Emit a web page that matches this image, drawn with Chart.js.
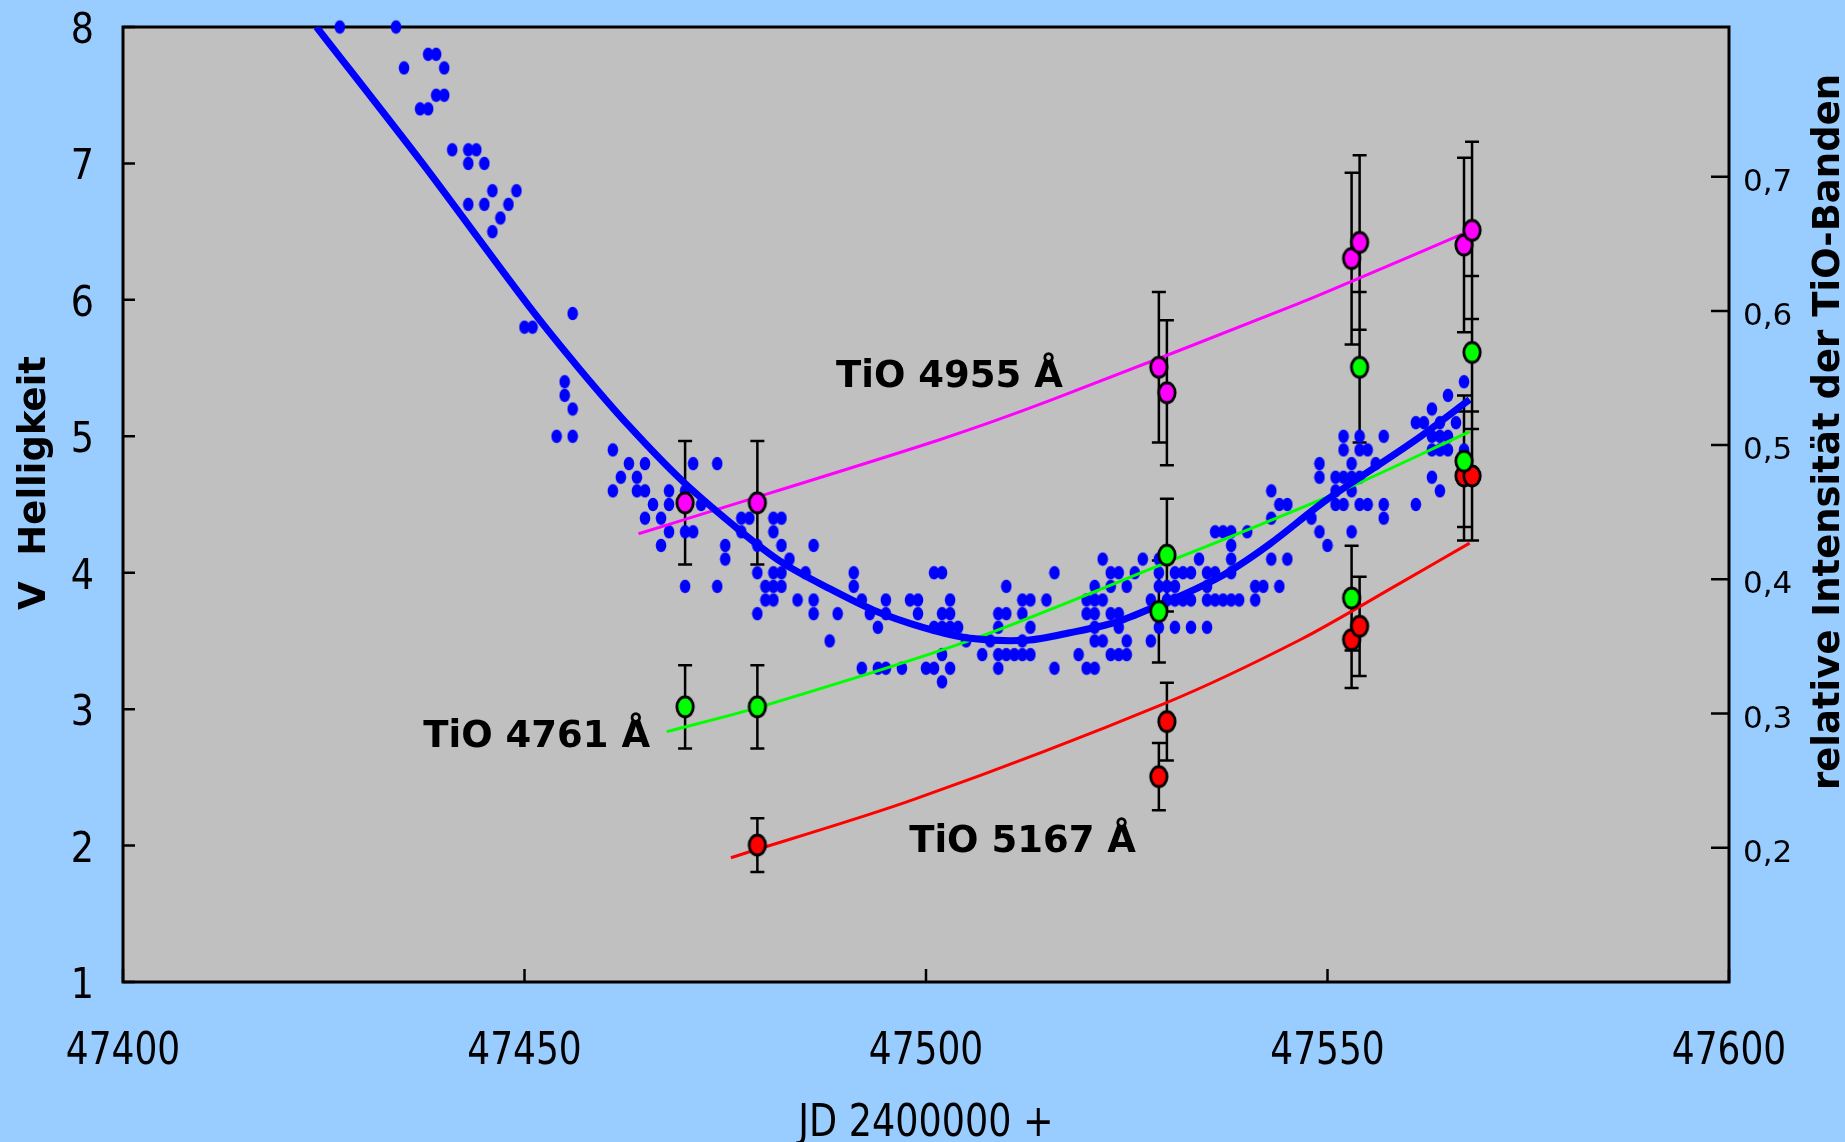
<!DOCTYPE html>
<html>
<head>
<meta charset="utf-8">
<title>V Helligkeit und TiO-Banden</title>
<script src="https://cdn.jsdelivr.net/npm/chart.js@4.4.1/dist/chart.umd.min.js"></script>
<style>
  html, body { margin: 0; padding: 0; background: #99ccff; }
  canvas { display: block; }
</style>
</head>
<body>
<canvas id="lightCurve" width="1845" height="1142"></canvas>
<script>
// Light curve (V) with the relative intensity of three TiO bands

const jdTicks = [47400, 47450, 47500, 47550, 47600];
const vTicks = [1, 2, 3, 4, 5, 6, 7, 8];
const tioTicks = [0.2, 0.3, 0.4, 0.5, 0.6, 0.7];

// visual observations: [JD - 2400000, V]
const vObs = [
  [47427, 8.0], [47434, 8.0],
  [47438, 7.8], [47439, 7.8],
  [47435, 7.7], [47440, 7.7],
  [47439, 7.5], [47440, 7.5],
  [47437, 7.4], [47438, 7.4],
  [47441, 7.1], [47443, 7.1], [47444, 7.1],
  [47443, 7.0], [47445, 7.0],
  [47446, 6.8], [47449, 6.8],
  [47443, 6.7], [47445, 6.7], [47448, 6.7],
  [47447, 6.6],
  [47446, 6.5],
  [47456, 5.9],
  [47450, 5.8], [47451, 5.8],
  [47455, 5.4], [47567, 5.4],
  [47455, 5.3], [47565, 5.3],
  [47456, 5.2], [47563, 5.2],
  [47561, 5.1], [47562, 5.1], [47564, 5.1], [47566, 5.1],
  [47454, 5.0], [47456, 5.0], [47552, 5.0], [47554, 5.0], [47557, 5.0], [47563, 5.0], [47564, 5.0], [47565, 5.0],
  [47461, 4.9], [47552, 4.9], [47554, 4.9], [47555, 4.9], [47563, 4.9], [47564, 4.9], [47565, 4.9], [47567, 4.9],
  [47463, 4.8], [47465, 4.8], [47471, 4.8], [47474, 4.8], [47549, 4.8], [47553, 4.8], [47556, 4.8],
  [47462, 4.7], [47464, 4.7], [47549, 4.7], [47551, 4.7], [47552, 4.7], [47553, 4.7], [47554, 4.7], [47563, 4.7],
  [47461, 4.6], [47464, 4.6], [47465, 4.6], [47468, 4.6], [47470, 4.6], [47543, 4.6], [47551, 4.6], [47553, 4.6], [47564, 4.6],
  [47466, 4.5], [47468, 4.5], [47472, 4.5], [47544, 4.5], [47545, 4.5], [47551, 4.5], [47552, 4.5], [47554, 4.5],
  [47555, 4.5], [47557, 4.5], [47561, 4.5],
  [47465, 4.4], [47467, 4.4], [47477, 4.4], [47478, 4.4], [47481, 4.4], [47482, 4.4], [47543, 4.4], [47548, 4.4], [47557, 4.4],
  [47468, 4.3], [47470, 4.3], [47471, 4.3], [47477, 4.3], [47481, 4.3], [47536, 4.3], [47537, 4.3], [47538, 4.3],
  [47540, 4.3], [47549, 4.3], [47553, 4.3],
  [47467, 4.2], [47475, 4.2], [47479, 4.2], [47482, 4.2], [47486, 4.2], [47538, 4.2], [47550, 4.2],
  [47475, 4.1], [47483, 4.1], [47522, 4.1], [47527, 4.1], [47529, 4.1], [47534, 4.1], [47538, 4.1], [47543, 4.1], [47545, 4.1],
  [47479, 4.0], [47481, 4.0], [47482, 4.0], [47485, 4.0], [47491, 4.0], [47501, 4.0], [47502, 4.0], [47516, 4.0], [47523, 4.0],
  [47524, 4.0], [47526, 4.0], [47529, 4.0], [47531, 4.0], [47532, 4.0], [47533, 4.0], [47535, 4.0], [47536, 4.0], [47538, 4.0],
  [47470, 3.9], [47474, 3.9], [47480, 3.9], [47481, 3.9], [47482, 3.9], [47491, 3.9], [47510, 3.9], [47521, 3.9], [47523, 3.9],
  [47525, 3.9], [47529, 3.9], [47530, 3.9], [47531, 3.9], [47535, 3.9], [47541, 3.9], [47542, 3.9], [47544, 3.9],
  [47480, 3.8], [47481, 3.8], [47484, 3.8], [47486, 3.8], [47492, 3.8], [47495, 3.8], [47498, 3.8], [47499, 3.8], [47503, 3.8],
  [47512, 3.8], [47513, 3.8], [47515, 3.8], [47520, 3.8], [47521, 3.8], [47522, 3.8], [47528, 3.8], [47530, 3.8], [47531, 3.8],
  [47532, 3.8], [47533, 3.8], [47535, 3.8], [47536, 3.8], [47537, 3.8], [47538, 3.8], [47539, 3.8], [47541, 3.8],
  [47479, 3.7], [47486, 3.7], [47489, 3.7], [47493, 3.7], [47495, 3.7], [47499, 3.7], [47502, 3.7], [47503, 3.7],
  [47509, 3.7], [47510, 3.7], [47512, 3.7], [47520, 3.7], [47521, 3.7], [47523, 3.7], [47524, 3.7],
  [47494, 3.6], [47501, 3.6], [47502, 3.6], [47503, 3.6], [47504, 3.6], [47509, 3.6], [47513, 3.6], [47521, 3.6],
  [47524, 3.6], [47529, 3.6], [47531, 3.6], [47533, 3.6], [47535, 3.6],
  [47488, 3.5], [47505, 3.5], [47508, 3.5], [47512, 3.5], [47521, 3.5], [47522, 3.5], [47525, 3.5], [47528, 3.5],
  [47502, 3.4], [47507, 3.4], [47509, 3.4], [47510, 3.4], [47511, 3.4], [47512, 3.4], [47513, 3.4], [47519, 3.4],
  [47523, 3.4], [47524, 3.4], [47525, 3.4],
  [47492, 3.3], [47494, 3.3], [47495, 3.3], [47497, 3.3], [47500, 3.3], [47501, 3.3], [47503, 3.3], [47509, 3.3],
  [47516, 3.3], [47520, 3.3], [47521, 3.3],
  [47502, 3.2]
];

// smoothed light curve
const fitJD = [47424.1, 47437.3, 47450.6, 47456.9, 47463.1, 47469.7, 47476.8, 47482.2, 47487.6, 47493.4, 47499.6,
  47505.5, 47512.6, 47517.9, 47523.8, 47529.1, 47533.2, 47537.5, 47542.8, 47549.8, 47560.9, 47567.7];
const fitV = [8.0, 7.0, 5.95, 5.49, 5.07, 4.67, 4.31, 4.07, 3.895, 3.727, 3.60,
  3.52, 3.505, 3.56, 3.64, 3.765, 3.87, 4.0, 4.21, 4.53, 4.97, 5.27];

// TiO band intensities (right axis), error bars
const tioJD = [47470, 47479, 47529, 47530, 47553, 47554, 47567, 47568];
const tio4955 = [0.457, 0.457, 0.558, 0.539, 0.639, 0.651, 0.649, 0.660];
const err4955 = [0.046, 0.046, 0.056, 0.054, 0.064, 0.065, 0.065, 0.066];
const tio4761 = [0.305, 0.305, 0.376, 0.418, 0.386, 0.558, 0.488, 0.569];
const err4761 = [0.031, 0.031, 0.038, 0.042, 0.039, 0.056, 0.049, 0.057];
const tio5167 = [null, 0.202, 0.253, 0.294, 0.355, 0.365, 0.477, 0.477];
const err5167 = [null, 0.020, 0.025, 0.029, 0.036, 0.037, 0.048, 0.048];

// trend lines of the bands
const trend4955JD = [47464.2, 47471.8, 47501.7, 47515.8, 47546.6, 47553.0, 47567.5];
const trend4955 = [0.434, 0.448, 0.504, 0.534, 0.606, 0.622, 0.659];
const trend4761JD = [47467.7, 47478.8, 47505.2, 47529.9, 47550.8, 47567.7];
const trend4761 = [0.2865, 0.304, 0.354, 0.4125, 0.4635, 0.510];
const trend5167JD = [47475.7, 47498.5, 47529.9, 47546.6, 47559.0, 47567.7];
const trend5167 = [0.1926, 0.236, 0.308, 0.355, 0.397, 0.427];

const bandLabels = [
  { text: 'TiO 4955 Å', jd: 47488.8, value: 0.543 },
  { text: 'TiO 4761 Å', jd: 47437.4, value: 0.275 },
  { text: 'TiO 5167 Å', jd: 47497.9, value: 0.197 }
];

const colors = { dot: '#0000ff', m4955: '#ff00ff', m4761: '#00ff00', m5167: '#ff0000', plot: '#c0c0c0' };

function ellipseSprite(w, h, rx, ry, fill, stroke, lw) {
  const c = document.createElement('canvas');
  c.width = w;
  c.height = h;
  const g = c.getContext('2d');
  g.beginPath();
  g.ellipse(w / 2, h / 2, rx, ry, 0, 0, Math.PI * 2);
  g.fillStyle = fill;
  g.fill();
  if (stroke) {
    g.lineWidth = lw;
    g.strokeStyle = stroke;
    g.stroke();
  }
  return c;
}

const dotSprite = ellipseSprite(12, 15, 5.3, 6.8, colors.dot);
const markerSprite = col => ellipseSprite(22, 26, 8.2, 10, col, '#000', 2.8);

function pairs(xs, ys) {
  return xs.map((x, i) => ({ x: x, y: ys[i] })).filter(p => p.y !== null);
}

function trendSet(xs, ys, col, order) {
  return {
    data: pairs(xs, ys), yAxisID: 'y2', showLine: true, borderColor: col,
    borderWidth: 3, pointRadius: 0, tension: 0.3, order: order
  };
}

function markerSet(ys, col) {
  return {
    data: pairs(tioJD, ys), yAxisID: 'y2', pointStyle: markerSprite(col),
    pointRadius: 9, order: 0, clip: false
  };
}

const errorSeries = [
  { values: tio4955, errors: err4955 },
  { values: tio4761, errors: err4761 },
  { values: tio5167, errors: err5167 }
];

// condensed text like the original axis font
function squeezed(ctx, text, x, y, size, sx, align) {
  ctx.save();
  ctx.translate(x, y);
  ctx.scale(sx, 1);
  ctx.font = size + 'px "DejaVu Sans"';
  ctx.textAlign = align;
  ctx.textBaseline = 'alphabetic';
  ctx.fillStyle = '#000';
  ctx.fillText(text, 0, 0);
  ctx.restore();
}

function rotatedTitle(ctx, text, x, y) {
  ctx.save();
  ctx.translate(x, y);
  ctx.rotate(-Math.PI / 2);
  ctx.font = 'bold 37px "DejaVu Sans"';
  ctx.textAlign = 'center';
  ctx.textBaseline = 'alphabetic';
  ctx.fillStyle = '#000';
  ctx.fillText(text, 0, 0);
  ctx.restore();
}

const chartDecor = {
  id: 'chartDecor',
  beforeDraw(chart) {
    const { ctx, chartArea: a } = chart;
    ctx.save();
    ctx.fillStyle = colors.plot;
    ctx.fillRect(a.left, a.top, a.right - a.left, a.bottom - a.top);
    ctx.restore();
  },
  beforeDatasetsDraw(chart) {
    const { ctx, chartArea: a, scales } = chart;
    ctx.save();
    ctx.strokeStyle = '#000';
    ctx.lineWidth = 3;
    ctx.strokeRect(a.left, a.top, a.right - a.left, a.bottom - a.top);

    // inward tick marks
    ctx.lineWidth = 2.5;
    ctx.beginPath();
    vTicks.forEach(v => {
      const y = scales.y.getPixelForValue(v);
      ctx.moveTo(a.left, y);
      ctx.lineTo(a.left + 12, y);
    });
    jdTicks.forEach(v => {
      const x = scales.x.getPixelForValue(v);
      ctx.moveTo(x, a.bottom);
      ctx.lineTo(x, a.bottom - 13);
    });
    tioTicks.forEach(v => {
      const y = scales.y2.getPixelForValue(v);
      ctx.moveTo(a.right - 18, y);
      ctx.lineTo(a.right, y);
    });
    ctx.stroke();

    // error bars
    ctx.lineWidth = 2.5;
    ctx.beginPath();
    errorSeries.forEach(s => {
      s.values.forEach((v, i) => {
        if (v === null) return;
        const x = scales.x.getPixelForValue(tioJD[i]);
        const yTop = scales.y2.getPixelForValue(v + s.errors[i]);
        const yBot = scales.y2.getPixelForValue(v - s.errors[i]);
        ctx.moveTo(x, yTop);
        ctx.lineTo(x, yBot);
        ctx.moveTo(x - 7, yTop);
        ctx.lineTo(x + 7, yTop);
        ctx.moveTo(x - 7, yBot);
        ctx.lineTo(x + 7, yBot);
      });
    });
    ctx.stroke();
    ctx.restore();
  },
  afterDraw(chart) {
    const { ctx, chartArea: a, scales } = chart;

    jdTicks.forEach(v => {
      squeezed(ctx, String(v), scales.x.getPixelForValue(v), 1064, 45, 0.8, 'center');
    });
    vTicks.forEach(v => {
      squeezed(ctx, String(v), 94, scales.y.getPixelForValue(v) + 16, 43, 0.85, 'right');
    });
    tioTicks.forEach(v => {
      const label = v.toFixed(1).replace('.', ',');
      squeezed(ctx, label, 1743, scales.y2.getPixelForValue(v) + 14, 31, 1, 'left');
    });

    squeezed(ctx, 'JD 2400000 +', (a.left + a.right) / 2, 1136, 44, 0.83, 'center');
    rotatedTitle(ctx, 'V  Helligkeit', 45, 483);
    rotatedTitle(ctx, 'relative Intensität der TiO-Banden', 1839, 432);

    ctx.save();
    ctx.font = 'bold 37px "DejaVu Sans"';
    ctx.textAlign = 'left';
    ctx.textBaseline = 'alphabetic';
    ctx.fillStyle = '#000';
    bandLabels.forEach(l => {
      ctx.fillText(l.text, scales.x.getPixelForValue(l.jd), scales.y2.getPixelForValue(l.value));
    });
    ctx.restore();
  }
};

const hiddenAxis = {
  grid: { display: false },
  border: { display: false },
  ticks: { display: false }
};

new Chart(document.getElementById('lightCurve'), {
  type: 'scatter',
  data: {
    datasets: [
      markerSet(tio4955, colors.m4955),
      markerSet(tio4761, colors.m4761),
      markerSet(tio5167, colors.m5167),
      {
        data: pairs(fitJD, fitV), yAxisID: 'y', showLine: true, borderColor: colors.dot,
        borderWidth: 7, pointRadius: 0, tension: 0.3, order: 1
      },
      trendSet(trend4955JD, trend4955, colors.m4955, 2),
      trendSet(trend4761JD, trend4761, colors.m4761, 2),
      trendSet(trend5167JD, trend5167, colors.m5167, 2),
      {
        data: vObs.map(p => ({ x: p[0], y: p[1] })), yAxisID: 'y',
        pointStyle: dotSprite, pointRadius: 5, order: 3, clip: false
      }
    ]
  },
  options: {
    responsive: false,
    devicePixelRatio: 1,
    animation: false,
    layout: { padding: { top: 27, left: 0, right: 0, bottom: 0 } },
    plugins: { legend: { display: false }, tooltip: { enabled: false } },
    scales: {
      x: Object.assign({}, hiddenAxis, {
        type: 'linear', position: 'bottom', min: 47400, max: 47600,
        afterBuildTicks: s => { s.ticks = jdTicks.map(v => ({ value: v })); },
        afterFit: s => { s.height = 160; }
      }),
      y: Object.assign({}, hiddenAxis, {
        type: 'linear', position: 'left', min: 1, max: 8,
        afterBuildTicks: s => { s.ticks = vTicks.map(v => ({ value: v })); },
        afterFit: s => { s.width = 123; }
      }),
      y2: Object.assign({}, hiddenAxis, {
        type: 'linear', position: 'right', min: 0.1, max: 0.8115,
        afterBuildTicks: s => { s.ticks = tioTicks.map(v => ({ value: v })); },
        afterFit: s => { s.width = 116; }
      })
    }
  },
  plugins: [chartDecor]
});
</script>
</body>
</html>
